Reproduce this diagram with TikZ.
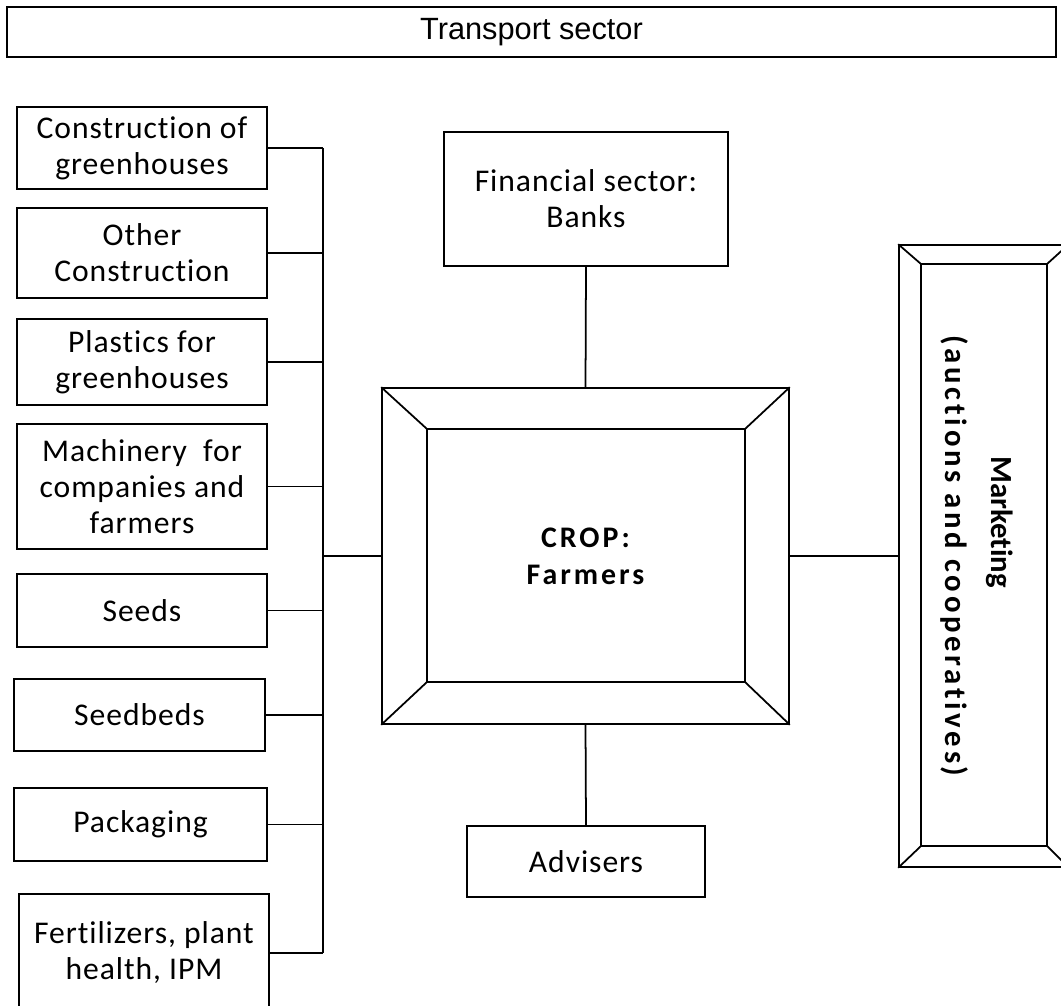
\documentclass[tikz,border=0pt]{standalone}
\usepackage{fontspec}
\setmainfont{Carlito}[LetterSpace=3, Ligatures=NoCommon]
\newfontfamily\headfont{Liberation Sans}
\newfontfamily\cropfont{Carlito}[LetterSpace=10, Ligatures=NoCommon]
\newfontfamily\mktfont{Carlito}[Ligatures=NoCommon]
\newfontfamily\mktwide{Carlito}[LetterSpace=12, Ligatures=NoCommon]
\begin{document}
\begin{tikzpicture}[x=0.02cm, y=-0.02cm, line width=1pt, line join=miter,
	font=\fontsize{18}{20.5}\selectfont,
	box/.style={draw, align=center, inner sep=0pt}]
	\useasboundingbox (0,0) rectangle (1061,1006);
	\clip (0,0) rectangle (1061,1006);
	% top bar
	\node[box, minimum width=20.98cm, minimum height=1cm, font=\headfont\fontsize{17.5}{20}\selectfont] (trans) at (531.5,32) {Transport sector};
	% suppliers
	\node[box, minimum width=5cm, minimum height=1.64cm] (cog) at (142,148) {Construction of\\greenhouses};
	\node[box, minimum width=5cm, minimum height=1.8cm] (ocon) at (142,253) {Other\\Construction};
	\node[box, minimum width=5cm, minimum height=1.72cm] (plas) at (142,362) {Plastics for\\greenhouses};
	\node[box, minimum width=5cm, minimum height=2.5cm] (mach) at (142,486.5) {Machinery~ for\\companies and\\farmers};
	\node[box, minimum width=5cm, minimum height=1.46cm] (seed) at (142,610.5) {Seeds};
	\node[box, minimum width=5.02cm, minimum height=1.44cm] (sbed) at (139.5,715) {Seedbeds};
	\node[box, minimum width=5.06cm, minimum height=1.46cm] (pack) at (140.5,824.5) {Packaging};
	\node[box, minimum width=5cm, minimum height=2.36cm] (fert) at (144,953) {Fertilizers, plant\\health, IPM};
	% centre
	\node[box, minimum width=8.14cm, minimum height=6.72cm, font=\cropfont\bfseries\fontsize{17}{21}\selectfont] (crop) at (585.5,556) {CROP:\\Farmers};
	\draw (427,429) rectangle (745,682);
	\draw (crop.north west) -- (427,429) (crop.north east) -- (745,429)
		(crop.south west) -- (427,682) (crop.south east) -- (745,682);
	\node[box, minimum width=5.68cm, minimum height=2.68cm] (fin) at (586,199) {Financial sector:\\Banks};
	\node[box, minimum width=4.76cm, minimum height=1.42cm] (adv) at (586,861.5) {Advisers};
	% marketing
	\node[box, minimum width=3.38cm, minimum height=12.44cm] (mkt) at (983.5,556) {};
	\draw (921,264) rectangle (1047,846);
	\draw (mkt.north west) -- (921,264) (mkt.north east) -- (1047,264)
		(mkt.south west) -- (921,846) (mkt.south east) -- (1047,846);
	\node[rotate=-90, align=center, inner sep=0pt, font=\bfseries\fontsize{17.5}{26}\selectfont] (mkttxt) at (977,556)
		{{\mktfont Marketing}\rule{1.36cm}{0pt}\\{\mktwide (auctions and cooperatives)}};
	% connectors
	\coordinate (busx) at (323,0);
	\draw (cog.east -| busx) -- (fert.east -| busx);
	\foreach \b in {cog,ocon,plas,mach,seed,sbed,pack,fert}
		\draw (\b.east) -- (\b.east -| busx);
	\draw (crop.west) -- (crop.west -| busx);
	\draw (fin.south) -- (crop.north);
	\draw (crop.south) -- (adv.north);
	\draw (crop.east) -- (mkt.west);
\end{tikzpicture}
\end{document}
